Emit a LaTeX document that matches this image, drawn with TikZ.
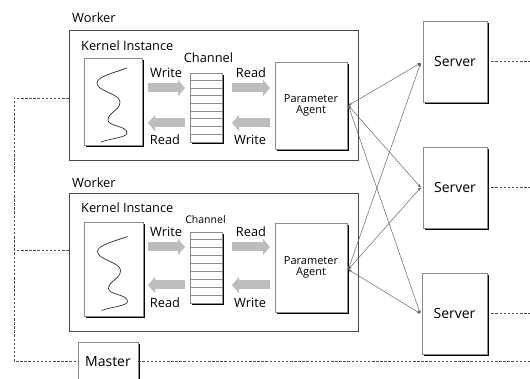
\documentclass[tikz,border=0pt]{standalone}
\usepackage{fontspec}
\setmainfont{Open Sans}
\usetikzlibrary{arrows.meta,shadows}
\definecolor{txt}{HTML}{000000}
\definecolor{bordr}{HTML}{8C8C8C}
\definecolor{blk}{HTML}{BDBDBD}
\definecolor{conn}{HTML}{5A5A5A}
\tikzset{
  box/.style={draw=bordr, line width=0.6pt, fill=white, inner sep=0pt,
    drop shadow={shadow xshift=1.8pt, shadow yshift=-1.8pt, fill=black, opacity=1}},
  workerbox/.style={draw=black!70, line width=0.7pt, inner sep=0pt},
  lbl/.style={text=txt, inner sep=0pt, font=\fontsize{12.8}{14}\selectfont},
  small/.style={text=txt, inner sep=0pt, font=\fontsize{11}{12.5}\selectfont},
  big/.style={text=txt, inner sep=0pt, font=\fontsize{14}{16}\selectfont},
  blockarr/.style={draw=blk, line width=9pt, -{Triangle[length=7pt,width=16pt]}},
  link/.style={draw=conn, line width=0.45pt, {Stealth[length=3.5pt,width=3pt]}-{Stealth[length=3.5pt,width=3pt]}},
  dashline/.style={draw=black!70, line width=0.5pt, dash pattern=on 2.5pt off 1.6pt},
  wave/.pic={\draw[line width=0.65pt, black!85]
    (14,-33.5) .. controls (2,-29) and (-16,-25) .. (-16,-18.5)
    .. controls (-16,-10) and (7,-8) .. (7,0.5)
    .. controls (7,9) and (-5,11) .. (-5,18.5)
    .. controls (-5,25) and (14,24) .. (14,31.5)
    .. controls (14,36) and (-3,37) .. (-12,40.5);}
}
\begin{document}
\begin{tikzpicture}[x=1pt,y=-1pt]
\useasboundingbox (0,0) rectangle (530,379);

% ---------- Worker 1 ----------
\node[lbl, anchor=west] (w1l) at (72,18) {Worker};
\node[workerbox, minimum width=289pt, minimum height=130pt] (w1) at (213.5,95) {};
\node[lbl, anchor=west] (k1l) at (81,46) {Kernel Instance};
\node[box, minimum width=58pt, minimum height=87pt] (k1) at (113,101.5) {};
\pic at (k1.center) {wave};
\node[lbl] (c1l) at (208.5,58) {Channel};
\node[box, minimum width=32pt, minimum height=69pt] (c1) at (206,107.5) {};
\foreach \i in {1,...,8} \draw[bordr, line width=0.5pt] ([yshift=-\i*7.67pt]c1.north west) -- ([yshift=-\i*7.67pt]c1.north east);
\node[box, minimum width=72pt, minimum height=87pt, small, align=center] (pa1) at (311,105.5) {Parameter\\[-1pt]Agent};
\coordinate (a1s) at (148,88); \coordinate (a1e) at (185,88);
\coordinate (b1s) at (185,123); \coordinate (b1e) at (148,123);
\coordinate (c1s) at (232,88); \coordinate (c1e) at (270,88);
\coordinate (d1s) at (270,123); \coordinate (d1e) at (232,123);
\draw[blockarr] (a1s) -- (a1e);
\draw[blockarr] (b1s) -- (b1e);
\draw[blockarr] (c1s) -- (c1e);
\draw[blockarr] (d1s) -- (d1e);
\node[lbl] (t1a) at (166,73) {Write};
\node[lbl] (t1b) at (165,140) {Read};
\node[lbl] (t1c) at (251,73) {Read};
\node[lbl] (t1d) at (250,140) {Write};

% ---------- Worker 2 ----------
\node[lbl, anchor=west] (w2l) at (72,183) {Worker};
\node[workerbox, minimum width=289pt, minimum height=138pt] (w2) at (213.5,262) {};
\node[lbl, anchor=west] (k2l) at (81,208) {Kernel Instance};
\node[box, minimum width=59pt, minimum height=94pt] (k2) at (113.5,269) {};
\pic at ([yshift=-1pt]k2.center) {wave};
\node[small, font=\fontsize{10.5}{12}\selectfont] (c2l) at (205.5,220) {Channel};
\node[box, minimum width=32pt, minimum height=71pt] (c2) at (206,267.5) {};
\foreach \i in {1,...,8} \draw[bordr, line width=0.5pt] ([yshift=-\i*7.9pt]c2.north west) -- ([yshift=-\i*7.9pt]c2.north east);
\node[box, minimum width=72pt, minimum height=89pt, small, align=center] (pa2) at (311,267.5) {Parameter\\[-1pt]Agent};
\coordinate (a2s) at (148,247); \coordinate (a2e) at (185,247);
\coordinate (b2s) at (185,285); \coordinate (b2e) at (148,285);
\coordinate (c2s) at (232,247); \coordinate (c2e) at (270,247);
\coordinate (d2s) at (270,285); \coordinate (d2e) at (232,285);
\draw[blockarr] (a2s) -- (a2e);
\draw[blockarr] (b2s) -- (b2e);
\draw[blockarr] (c2s) -- (c2e);
\draw[blockarr] (d2s) -- (d2e);
\node[lbl] (t2a) at (166,232) {Write};
\node[lbl] (t2b) at (165,303) {Read};
\node[lbl] (t2c) at (251,232) {Read};
\node[lbl] (t2d) at (250,303) {Write};

% ---------- Servers ----------
\node[box, minimum width=64pt, minimum height=81pt, big] (s1) at (455,61.5) {Server};
\node[box, minimum width=64pt, minimum height=81pt, big] (s2) at (455,187.5) {Server};
\node[box, minimum width=65pt, minimum height=81pt, big] (s3) at (454.5,313.5) {Server};

% ---------- Master ----------
\node[box, minimum width=60pt, minimum height=40pt, big] (m) at (108,362) {Master};

% ---------- links ----------
\coordinate (p1) at ([xshift=1pt,yshift=0pt]pa1.east);
\coordinate (p2) at ([xshift=1pt,yshift=-2pt]pa2.east);
\coordinate (q1) at ([xshift=-2pt,yshift=-1.5pt]s1.west);
\coordinate (q2) at ([xshift=-2pt]s2.west);
\coordinate (q3) at ([xshift=-1.5pt]s3.west);
\foreach \p in {p1,p2}
  \foreach \q in {q1,q2,q3}
    \draw[link] (\p) -- (\q);

% ---------- dashed control lines ----------
\coordinate (lx1) at (14,98);
\coordinate (lx2) at (14,250);
\coordinate (lx3) at (14,361);
\coordinate (rx0) at (530,361);
\coordinate (rx1) at (530,61);
\coordinate (rx2) at (530,187);
\coordinate (rx3) at (530,313);
\draw[dashline] (w1.west |- lx1) -- (lx1) -- (lx3) -- (m.west |- lx3);
\draw[dashline] (w2.west |- lx2) -- (lx2);
\draw[dashline] (m.east |- rx0) -- (rx0);
\draw[dashline] ([xshift=4pt]s1.east |- rx1) -- (rx1);
\draw[dashline] ([xshift=4pt]s2.east |- rx2) -- (rx2);
\draw[dashline] ([xshift=4pt]s3.east |- rx3) -- (rx3);
\end{tikzpicture}
\end{document}
